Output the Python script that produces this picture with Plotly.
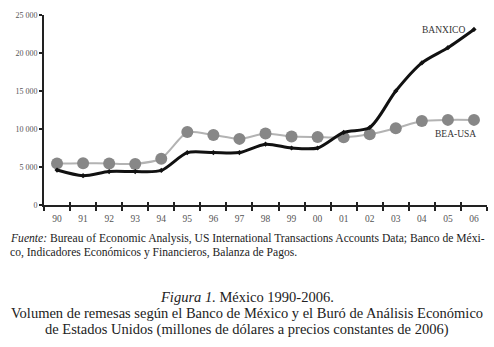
import plotly.graph_objects as go

years = ["90","91","92","93","94","95","96","97","98","99","00","01","02","03","04","05","06"]
banxico = [4600, 3860, 4400, 4400, 4550, 6900, 6900, 6900, 8000, 7500, 7500, 9550, 10200, 15000, 18700, 20700, 23100]
bea_usa = [5450, 5500, 5450, 5400, 6100, 9600, 9200, 8700, 9400, 9000, 8950, 8900, 9300, 10100, 11050, 11200, 11200]
yticks = [0, 5000, 10000, 15000, 20000, 25000]
ytick_text = ["0", "5 000", "10 000", "15 000", "20 000", "25 000"]

SERIF = "Liberation Serif, Times New Roman, Times, serif"

fig = go.Figure()
fig.add_trace(go.Scatter(
    x=years, y=bea_usa, mode="lines+markers", name="BEA-USA",
    line=dict(color="#b3b3b3", width=2, shape="spline", smoothing=0.6),
    marker=dict(symbol="circle", size=12, color="#878787"),
))
fig.add_trace(go.Scatter(
    x=years, y=banxico, mode="lines+markers", name="BANXICO",
    line=dict(color="#111111", width=3, shape="spline", smoothing=0.8),
    marker=dict(symbol="diamond", size=4, color="#111111"),
))

L, R, T, B = 44, 7, 15, 142
fig.update_layout(
    width=494, height=347,
    margin=dict(l=L, r=R, t=T, b=B),
    paper_bgcolor="white", plot_bgcolor="white",
    showlegend=False,
    font=dict(family=SERIF, color="#222"),
    xaxis=dict(
        type="category", showgrid=False, zeroline=False,
        range=[-0.5, len(years) - 0.5], autorange=False,
        showline=True, linecolor="#222", linewidth=2,
        ticks="outside", ticklen=4, tickwidth=2, tickcolor="#222",
        tickson="boundaries", ticklabelstandoff=4,
        tickfont=dict(family=SERIF, size=9.5, color="#555"),
    ),
    xaxis2=dict(
        type="category", overlaying="x", matches="x", showgrid=False, zeroline=False,
        showline=False, ticks="inside", ticklen=3, tickwidth=2, tickcolor="#222",
        tickson="boundaries", showticklabels=False, side="bottom",
    ),
    yaxis=dict(
        range=[0, 25000], showgrid=False, zeroline=False,
        showline=True, linecolor="#222", linewidth=2,
        ticks="outside", ticklen=3, tickwidth=2, tickcolor="#222",
        tickvals=yticks, ticktext=ytick_text,
        tickfont=dict(family=SERIF, size=8, color="#555"),
    ),
)
fig.add_trace(go.Scatter(x=years, y=[None]*len(years), xaxis="x2", showlegend=False, hoverinfo="skip"))

def px_x(px):
    return (px - L) / (494 - L - R)

def px_y(py):
    return (347 - B - py) / (347 - T - B)

anns = [
    dict(text="BANXICO", x=px_x(443), y=px_y(30), size=9.5, color="#333"),
    dict(text="BEA-USA", x=px_x(455), y=px_y(134), size=9.5, color="#333"),
]
for a in anns:
    fig.add_annotation(text=a["text"], x=a["x"], y=a["y"], xref="paper", yref="paper",
                       showarrow=False, xanchor="center", yanchor="middle",
                       font=dict(family=SERIF, size=a["size"], color=a["color"]))

caption = [
    ("<i>Fuente:</i> Bureau of Economic Analysis, US International Transactions Accounts Data; Banco de Méxi-", 238),
    ("co, Indicadores Económicos y Financieros, Balanza de Pagos.", 253),
]
for txt, py in caption:
    fig.add_annotation(text=txt, x=px_x(8), y=px_y(py), xref="paper", yref="paper",
                       showarrow=False, xanchor="left", yanchor="middle",
                       font=dict(family=SERIF, size=11.6, color="#222"))

title_lines = [
    ("<i>Figura 1.</i> México 1990-2006.", 297),
    ("Volumen de remesas según el Banco de México y el Buró de Análisis Económico", 313),
    ("de Estados Unidos (millones de dólares a precios constantes de 2006)", 329),
]
for txt, py in title_lines:
    fig.add_annotation(text=txt, x=px_x(247), y=px_y(py), xref="paper", yref="paper",
                       showarrow=False, xanchor="center", yanchor="middle",
                       font=dict(family=SERIF, size=14.5, color="#222"))

fig.write_html("out.html", config={"displayModeBar": False},
               post_script="document.body.style.margin='0';")
